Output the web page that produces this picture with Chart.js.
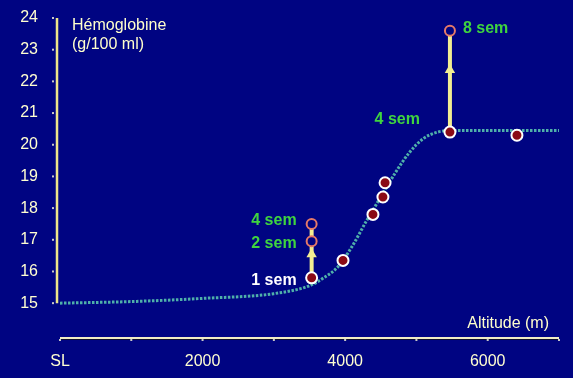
<!DOCTYPE html>
<html lang="fr">
<head>
<meta charset="UTF-8">
<title>Hémoglobine et altitude</title>
<script src="https://cdn.jsdelivr.net/npm/chart.js"></script>
<style>
    body { margin: 0; background: #000482; }
    #wrap { width: 573px; height: 378px; }
</style>
</head>
<body>
<div id="wrap"><canvas id="hbChart" width="573" height="378"></canvas></div>
<script>
// fitted curve (altitude in m, haemoglobin in g/100 ml)
const curveAlt = [0, 1000, 2000, 3000, 3500, 3700, 3900, 4100, 4300, 4500, 4700, 4900, 5100, 5300, 5500, 6000, 7000];
const curveHb = [15.0, 15.05, 15.15, 15.3, 15.55, 15.8, 16.15, 16.8, 17.6, 18.35, 19.1, 19.75, 20.2, 20.4, 20.45, 20.45, 20.45];

// measured points (filled)
const measAlt = [3530, 3970, 4390, 4530, 4560, 5470, 6410];
const measHb = [15.8, 16.35, 17.8, 18.35, 18.8, 20.4, 20.3];

// values after acclimatisation (open)
const openAlt = [3530, 3530, 5470];
const openHb = [16.95, 17.5, 23.6];

// arrows: start, end, arrowhead
const arrowAlt = [3530, 3530, 5470];
const arrowFrom = [15.8, 16.95, 20.4];
const arrowTo = [16.95, 17.5, 23.6];
const headAlt = [3530, 5470];
const headHb = [16.54, 22.36];

// week labels and the point each one belongs to
const semLabels = ['1 sem', '2 sem', '4 sem', '4 sem', '8 sem'];

const yTicks = [15, 16, 17, 18, 19, 20, 21, 22, 23, 24];
const xTicks = [0, 1000, 2000, 3000, 4000, 5000, 6000, 7000];
const xLabels = ['SL', '', '2000', '', '4000', '', '6000', ''];

const FONT = "'Liberation Sans', Arial, sans-serif";

const decor = {
    id: 'decor',
    beforeDatasetsDraw(chart) {
        const { ctx, chartArea: a, scales: { x, y } } = chart;
        ctx.save();
        // y axis line
        ctx.strokeStyle = '#eee68a';
        ctx.lineWidth = 2.5;
        ctx.beginPath();
        ctx.moveTo(a.left, y.getPixelForValue(24));
        ctx.lineTo(a.left, y.getPixelForValue(15));
        ctx.stroke();
        // x axis line with dark shadow
        const xl = x.getPixelForValue(0);
        ctx.strokeStyle = '#101030';
        ctx.lineWidth = 1;
        ctx.beginPath();
        ctx.moveTo(xl, a.bottom + 1.5);
        ctx.lineTo(a.right, a.bottom + 1.5);
        ctx.stroke();
        ctx.strokeStyle = '#f0ecc4';
        ctx.lineWidth = 2;
        ctx.beginPath();
        ctx.moveTo(xl, a.bottom);
        ctx.lineTo(a.right, a.bottom);
        ctx.stroke();
        // tick dots
        ctx.fillStyle = '#c8c8c8';
        yTicks.forEach(v => ctx.fillRect(a.left - 5, y.getPixelForValue(v) - 1, 2, 2));
        xTicks.forEach(v => ctx.fillRect(x.getPixelForValue(v) - 1, a.bottom + 1, 2, 2));
        // axis titles
        ctx.fillStyle = '#ffffcc';
        ctx.font = '16px ' + FONT;
        ctx.textAlign = 'left';
        ctx.textBaseline = 'alphabetic';
        ctx.fillText('Hémoglobine', a.left + 15, a.top + 12);
        ctx.fillText('(g/100 ml)', a.left + 15, a.top + 31);
        ctx.textAlign = 'right';
        ctx.fillText('Altitude (m)', a.right - 10, a.bottom - 10);
        ctx.restore();
    },
    afterDatasetsDraw(chart) {
        const { ctx, scales: { x, y } } = chart;
        const px = (alt, hb) => [x.getPixelForValue(alt), y.getPixelForValue(hb)];
        const anchors = [
            [px(measAlt[0], measHb[0]), -15, 3, 'right', '#ffffff'],
            [px(openAlt[0], openHb[0]), -15, 2, 'right', '#3fd43f'],
            [px(openAlt[1], openHb[1]), -15, -3, 'right', '#3fd43f'],
            [px(measAlt[5], measHb[5]), -30, -12, 'right', '#3fd43f'],
            [px(openAlt[2], openHb[2]), 13, -2, 'left', '#3fd43f']
        ];
        ctx.save();
        ctx.font = 'bold 16px ' + FONT;
        ctx.textBaseline = 'middle';
        anchors.forEach(([p, dx, dy, align, col], i) => {
            ctx.textAlign = align;
            ctx.fillStyle = col;
            ctx.fillText(semLabels[i], p[0] + dx, p[1] + dy);
        });
        ctx.restore();
    }
};

const arrowSets = arrowAlt.map((alt, i) => ({
    type: 'line',
    data: [{ x: alt, y: arrowFrom[i] }, { x: alt, y: arrowTo[i] }],
    borderColor: '#f2ee92',
    borderWidth: 4,
    pointRadius: 0
}));

new Chart(document.getElementById('hbChart'), {
    type: 'scatter',
    data: {
        datasets: [
            {
                data: measAlt.map((v, i) => ({ x: v, y: measHb[i] })),
                backgroundColor: '#8a0a16',
                borderColor: '#ffffff',
                borderWidth: 2,
                pointRadius: 5.5
            },
            {
                data: openAlt.map((v, i) => ({ x: v, y: openHb[i] })),
                backgroundColor: '#000482',
                borderColor: '#e57a68',
                borderWidth: 2,
                pointRadius: 5
            },
            {
                data: headAlt.map((v, i) => ({ x: v, y: headHb[i] })),
                pointStyle: 'triangle',
                backgroundColor: '#f2ee92',
                borderColor: '#f2ee92',
                borderWidth: 0,
                pointRadius: 6
            },
            ...arrowSets,
            {
                type: 'line',
                data: curveAlt.map((v, i) => ({ x: v, y: curveHb[i] })),
                borderColor: '#4fb0aa',
                borderWidth: 3,
                borderDash: [2.5, 1.5],
                cubicInterpolationMode: 'monotone',
                pointRadius: 0
            }
        ]
    },
    options: {
        responsive: false,
        animation: false,
        layout: { padding: { top: 18, right: 14, left: 0, bottom: 0 } },
        plugins: { legend: { display: false }, tooltip: { enabled: false } },
        scales: {
            x: {
                type: 'linear',
                min: -42,
                max: 7000,
                afterBuildTicks: s => { s.ticks = xTicks.map(v => ({ value: v })); },
                afterFit: s => { s.height = 40; s.paddingLeft = 0; s.paddingRight = 0; },
                grid: { display: false, drawTicks: false },
                border: { display: false },
                ticks: {
                    autoSkip: false,
                    maxRotation: 0,
                    padding: 14,
                    color: '#ffffd0',
                    font: { family: FONT, size: 16 },
                    callback: (v, i) => xLabels[i]
                }
            },
            y: {
                min: 13.9,
                max: 24,
                afterBuildTicks: s => { s.ticks = yTicks.map(v => ({ value: v })); },
                afterFit: s => { s.width = 57; s.paddingTop = 0; s.paddingBottom = 0; },
                grid: { display: false, drawTicks: false },
                border: { display: false },
                ticks: {
                    padding: 19,
                    color: '#ffffd0',
                    font: { family: FONT, size: 16 }
                }
            }
        }
    },
    plugins: [decor]
});
</script>
</body>
</html>
